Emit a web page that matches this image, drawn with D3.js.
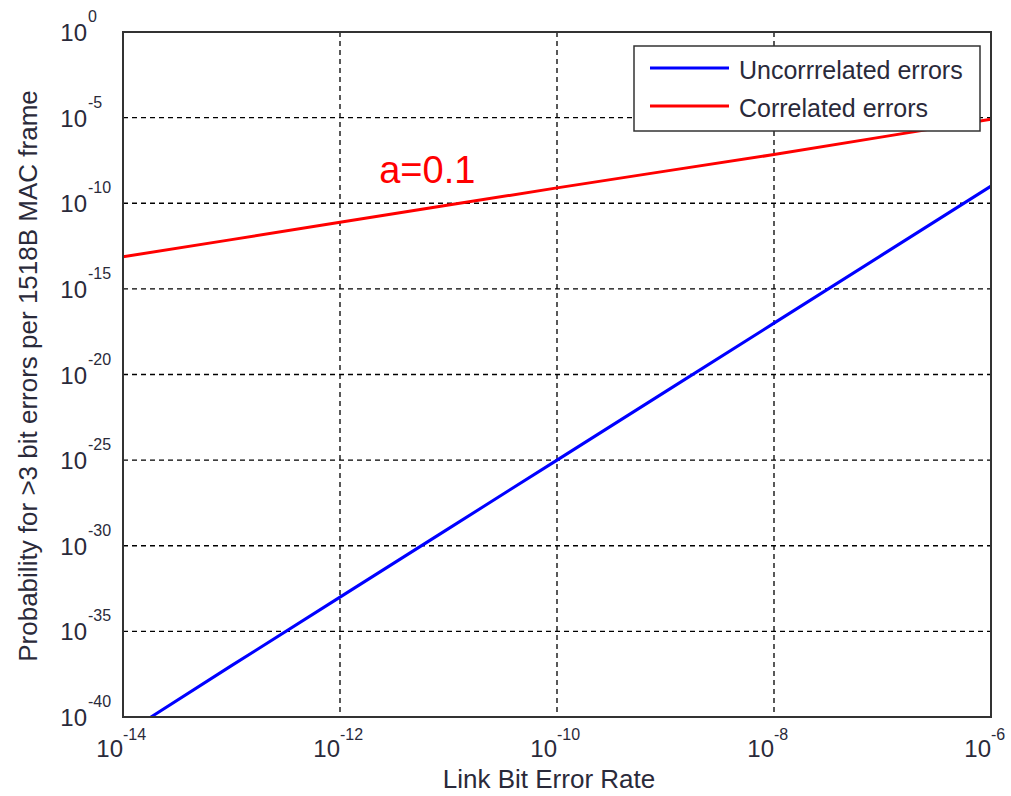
<!DOCTYPE html>
<html>
<head>
<meta charset="utf-8">
<script src="https://cdn.jsdelivr.net/npm/d3@7"></script>
<style>
  body { margin: 0; background: #fff; }
  text { font-family: "Liberation Sans", Arial, sans-serif; }
</style>
</head>
<body>
<div id="chart"></div>
<script>
// values
const berValues = [1e-14, 1e-13, 1e-12, 1e-11, 1e-10, 1e-9, 1e-8, 1e-7, 1e-6];
const uncorrelated = [9e-42, 1e-37, 1e-33, 1e-29, 1e-25, 1e-21, 1e-17, 1e-13, 1e-9];
const correlated = [7.5e-14, 7.5e-13, 7.7e-12, 7.8e-11, 7.9e-10, 7.5e-9, 7e-8, 7.5e-7, 8e-6];
const xTickExps = [-14, -12, -10, -8, -6];
const yTickExps = [0, -5, -10, -15, -20, -25, -30, -35, -40];
const seriesNames = ["Uncorrrelated errors", "Correlated errors"];
const seriesColors = ["#0000ff", "#ff0000"];
const annotation = { text: "a=0.1", x: 2.3e-12, y: 1.5e-9 };

(function () {
    const w = 1011, h = 796;
    const left = 123, right = 991, top = 32, bottom = 717;

    const svg = d3.select("#chart")
        .append("svg")
        .attr("width", w)
        .attr("height", h);

    const xScale = d3.scaleLog().domain([1e-14, 1e-6]).range([left, right]);
    const yScale = d3.scaleLog().domain([1e-40, 1]).range([bottom, top]);

    svg.append("defs").append("clipPath").attr("id", "plotclip")
        .append("rect")
        .attr("x", left).attr("y", top)
        .attr("width", right - left).attr("height", bottom - top);

    // grid
    const grid = svg.append("g")
        .attr("stroke", "#000")
        .attr("stroke-width", 1.3)
        .attr("stroke-dasharray", "5,4");
    grid.selectAll("line.gx")
        .data(xTickExps.slice(1, -1))
        .enter().append("line")
        .attr("x1", d => xScale(Math.pow(10, d)))
        .attr("x2", d => xScale(Math.pow(10, d)))
        .attr("y1", top).attr("y2", bottom);
    grid.selectAll("line.gy")
        .data(yTickExps.slice(1, -1))
        .enter().append("line")
        .attr("y1", d => yScale(Math.pow(10, d)))
        .attr("y2", d => yScale(Math.pow(10, d)))
        .attr("x1", left).attr("x2", right);

    // series
    const line = d3.line()
        .x(d => xScale(d[0]))
        .y(d => yScale(d[1]));
    const plot = svg.append("g").attr("clip-path", "url(#plotclip)");
    [uncorrelated, correlated].forEach((vals, i) => {
        plot.append("path")
            .datum(berValues.map((b, j) => [b, vals[j]]))
            .attr("d", line)
            .attr("fill", "none")
            .attr("stroke", seriesColors[i])
            .attr("stroke-width", 3);
    });

    // axes box
    svg.append("rect")
        .attr("x", left).attr("y", top)
        .attr("width", right - left).attr("height", bottom - top)
        .attr("fill", "none")
        .attr("stroke", "#333")
        .attr("stroke-width", 2);

    // tick labels
    const labColor = "#2a2a3a";
    const yl = svg.append("g").attr("fill", labColor);
    yTickExps.forEach(e => {
        const y = yScale(Math.pow(10, e));
        yl.append("text")
            .attr("x", 87).attr("y", y + 9)
            .attr("text-anchor", "end")
            .attr("font-size", 24)
            .text("10");
        yl.append("text")
            .attr("x", 88).attr("y", y - 10)
            .attr("font-size", 16)
            .text(e === 0 ? "0" : "-" + Math.abs(e));
    });
    const xl = svg.append("g").attr("fill", labColor);
    xTickExps.forEach(e => {
        const x = xScale(Math.pow(10, e));
        xl.append("text")
            .attr("x", x).attr("y", 757)
            .attr("text-anchor", "end")
            .attr("font-size", 24)
            .text("10");
        xl.append("text")
            .attr("x", x).attr("y", 740)
            .attr("font-size", 16)
            .text("-" + Math.abs(e));
    });

    // axis titles
    svg.append("text")
        .attr("x", 549).attr("y", 788)
        .attr("text-anchor", "middle")
        .attr("font-size", 26)
        .attr("fill", labColor)
        .text("Link Bit Error Rate");
    svg.append("text")
        .attr("transform", "translate(37,376) rotate(-90)")
        .attr("text-anchor", "middle")
        .attr("font-size", 26)
        .attr("fill", labColor)
        .text("Probability for >3 bit errors per 1518B MAC frame");

    // annotation
    svg.append("text")
        .attr("x", xScale(annotation.x)).attr("y", yScale(annotation.y))
        .attr("font-size", 38)
        .attr("fill", "#ff0000")
        .text(annotation.text);

    // legend
    const lg = svg.append("g");
    lg.append("rect")
        .attr("x", 634).attr("y", 46)
        .attr("width", 346).attr("height", 85)
        .attr("fill", "#fff")
        .attr("stroke", "#333")
        .attr("stroke-width", 1.5);
    seriesNames.forEach((name, i) => {
        const y = 68 + i * 38;
        lg.append("line")
            .attr("x1", 650).attr("x2", 729)
            .attr("y1", y).attr("y2", y)
            .attr("stroke", seriesColors[i])
            .attr("stroke-width", 3);
        lg.append("text")
            .attr("x", 739).attr("y", y + 11)
            .attr("font-size", 25)
            .attr("fill", labColor)
            .text(name);
    });
})();
</script>
</body>
</html>
